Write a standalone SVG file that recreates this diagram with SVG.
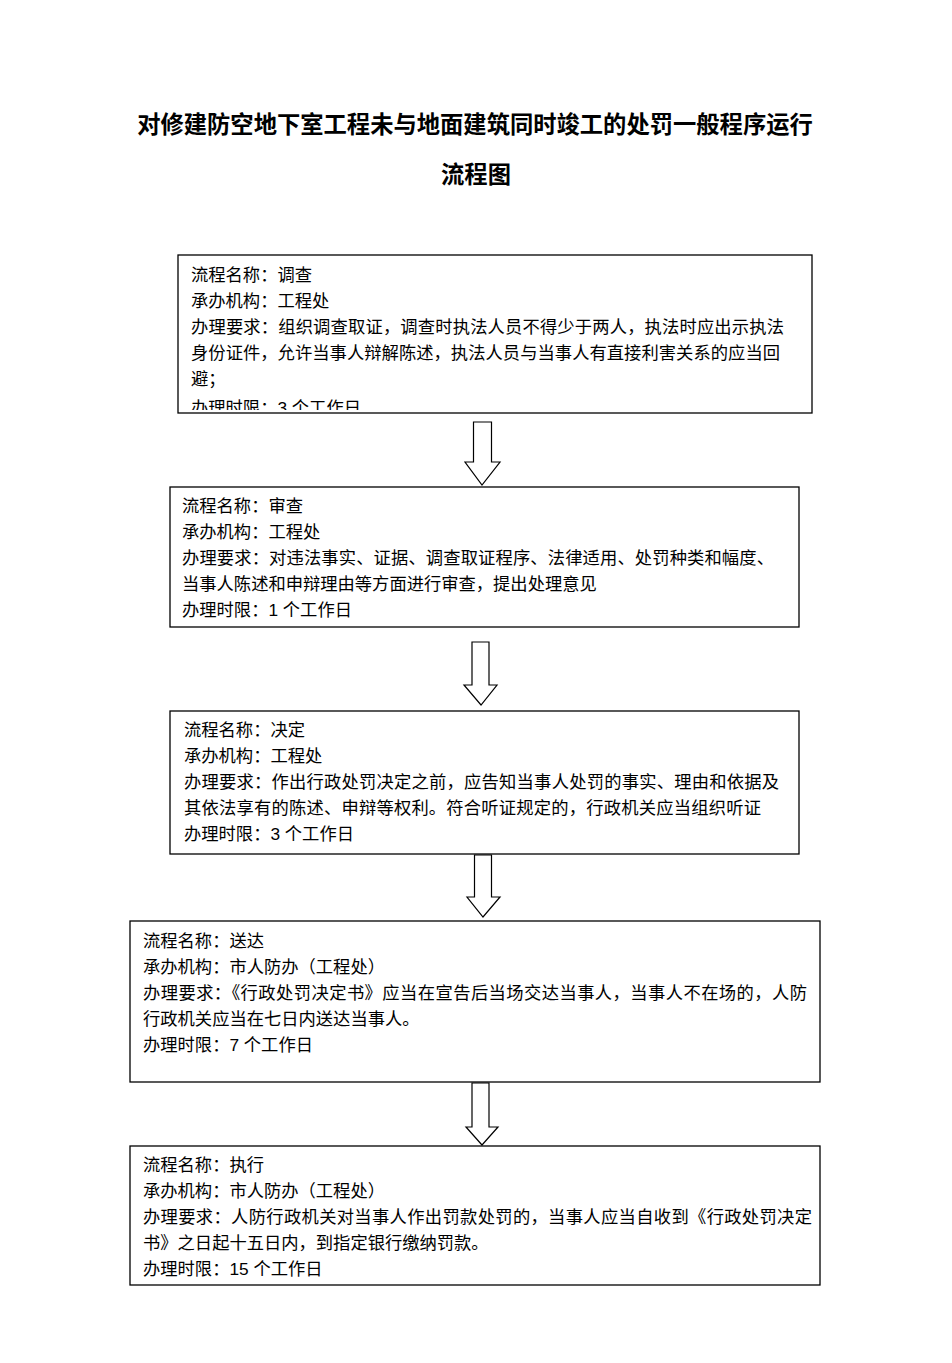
<svg xmlns="http://www.w3.org/2000/svg" width="952" height="1363" viewBox="0 0 952 1363">
<style>
.box{fill:#fff;stroke:#000;stroke-width:1.3}
.arr{fill:#fff;stroke:#000;stroke-width:1.2;stroke-linejoin:miter}
.t{font-family:"Liberation Sans","Noto Sans CJK SC",sans-serif;font-size:17.3px;fill:#000}
.title{font-family:"Noto Sans CJK SC",sans-serif;font-size:23.3px;font-weight:bold;fill:#000;text-anchor:middle}
</style>
<defs>
<clipPath id="c1"><rect x="178" y="255" width="634" height="155"/></clipPath>
</defs>
<rect width="952" height="1363" fill="#fff"/>
<g id="title">
<text class="title" x="475" y="133">对修建防空地下室工程未与地面建筑同时竣工的处罚一般程序运行</text>
<text class="title" x="476" y="183">流程图</text>
</g>
<g id="connectors">
<polygon class="arr" points="473.5,422 491.5,422 491.5,462 500,462 482,485 465,462 473.5,462"/>
<polygon class="arr" points="472,642 489,642 489,685 497,685 481,705 464,685 472,685"/>
<polygon class="arr" points="474.5,855 491.5,855 491.5,897 500,897 483,917 467,897 474.5,897"/>
<polygon class="arr" points="472,1083 489,1083 489,1127 498,1127 482,1145 466,1127 472,1127"/>
</g>
<g id="node1">
<rect class="box" x="178" y="255" width="634" height="158"/>
<g clip-path="url(#c1)">
<text class="t" x="191" y="281">流程名称：调查</text>
<text class="t" x="191" y="307">承办机构：工程处</text>
<text class="t" x="191" y="333" textLength="593" lengthAdjust="spacing">办理要求：组织调查取证，调查时执法人员不得少于两人，执法时应出示执法</text>
<text class="t" x="191" y="359" textLength="589" lengthAdjust="spacing">身份证件，允许当事人辩解陈述，执法人员与当事人有直接利害关系的应当回</text>
<text class="t" x="191" y="385">避；</text>
<text class="t" x="191" y="414">办理时限：3 个工作日</text>
</g>
</g>
<g id="node2">
<rect class="box" x="170" y="487" width="629" height="140"/>
<text class="t" x="182" y="512">流程名称：审查</text>
<text class="t" x="182" y="538">承办机构：工程处</text>
<text class="t" x="182" y="564" textLength="592" lengthAdjust="spacing">办理要求：对违法事实、证据、调查取证程序、法律适用、处罚种类和幅度、</text>
<text class="t" x="182" y="590">当事人陈述和申辩理由等方面进行审查，提出处理意见</text>
<text class="t" x="182" y="616">办理时限：1 个工作日</text>
</g>
<g id="node3">
<rect class="box" x="170" y="711" width="629" height="143"/>
<text class="t" x="184" y="736">流程名称：决定</text>
<text class="t" x="184" y="762">承办机构：工程处</text>
<text class="t" x="184" y="788" textLength="595" lengthAdjust="spacing">办理要求：作出行政处罚决定之前，应告知当事人处罚的事实、理由和依据及</text>
<text class="t" x="184" y="814" textLength="577" lengthAdjust="spacing">其依法享有的陈述、申辩等权利。符合听证规定的，行政机关应当组织听证</text>
<text class="t" x="184" y="840">办理时限：3 个工作日</text>
</g>
<g id="node4">
<rect class="box" x="130" y="921" width="690" height="161"/>
<text class="t" x="143" y="947">流程名称：送达</text>
<text class="t" x="143" y="973">承办机构：市人防办（工程处）</text>
<text class="t" x="143" y="999" textLength="664" lengthAdjust="spacing">办理要求：《行政处罚决定书》应当在宣告后当场交达当事人，当事人不在场的，人防</text>
<text class="t" x="143" y="1025">行政机关应当在七日内送达当事人。</text>
<text class="t" x="143" y="1051">办理时限：7 个工作日</text>
</g>
<g id="node5">
<rect class="box" x="130" y="1146" width="690" height="139"/>
<text class="t" x="143" y="1171">流程名称：执行</text>
<text class="t" x="143" y="1197">承办机构：市人防办（工程处）</text>
<text class="t" x="143" y="1223" textLength="669" lengthAdjust="spacing">办理要求：人防行政机关对当事人作出罚款处罚的，当事人应当自收到《行政处罚决定</text>
<text class="t" x="143" y="1249">书》之日起十五日内，到指定银行缴纳罚款。</text>
<text class="t" x="143" y="1275">办理时限：15 个工作日</text>
</g>
</svg>
